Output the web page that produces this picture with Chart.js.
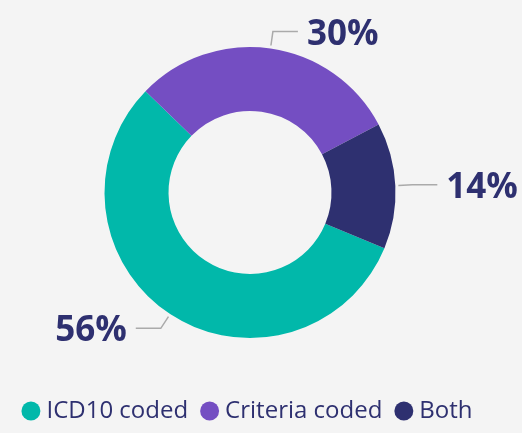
<!DOCTYPE html>
<html lang="en">
<head>
  <meta charset="UTF-8" />
  <title>Coding breakdown</title>
  <script src="https://cdn.jsdelivr.net/npm/chart.js"></script>
  <style>
    body { margin: 0; background: #f4f4f4; }
    #wrap { width: 522px; height: 433px; position: relative; }
  </style>
</head>
<body>
  <div id="wrap"><canvas id="donut"></canvas></div>
  <script>
    // chart data
    const categories = ['ICD10 coded', 'Criteria coded', 'Both'];
    const shares = [56, 30, 14];
    const sliceColors = ['#01B8AA', '#744EC2', '#2E3070'];

    const navy = '#2E3070';
    const fontFamily = "'Segoe UI', 'Open Sans', sans-serif";

    // outside labels with little elbow leader lines
    const outsideLabels = {
      id: 'outsideLabels',
      afterDatasetsDraw(chart) {
        const ctx = chart.ctx;
        const meta = chart.getDatasetMeta(0);
        ctx.save();
        meta.data.forEach((arc, i) => {
          const p = arc.getProps(['x', 'y', 'startAngle', 'endAngle', 'outerRadius'], true);
          const mid = (p.startAngle + p.endAngle) / 2;
          const cos = Math.cos(mid), sin = Math.sin(mid);
          const r0 = p.outerRadius + 3, r1 = p.outerRadius + 17;
          const sx = p.x + cos * r0, sy = p.y + sin * r0;
          const ex = p.x + cos * r1, ey = p.y + sin * r1;
          const dir = cos >= 0 ? 1 : -1;
          const hx = ex + dir * 25;

          ctx.strokeStyle = '#aaaaaa';
          ctx.lineWidth = 1.5;
          ctx.beginPath();
          ctx.moveTo(sx, sy);
          ctx.lineTo(ex, ey);
          ctx.lineTo(hx, ey);
          ctx.stroke();

          ctx.fillStyle = navy;
          ctx.font = 'bold 35px ' + fontFamily;
          ctx.textBaseline = 'middle';
          ctx.textAlign = dir > 0 ? 'left' : 'right';
          ctx.fillText(shares[i] + '%', hx + dir * 9, ey + 3);
        });
        ctx.restore();
      }
    };

    new Chart(document.getElementById('donut'), {
      type: 'doughnut',
      data: {
        labels: categories,
        datasets: [{
          data: shares,
          backgroundColor: sliceColors,
          borderWidth: 0,
          hoverOffset: 0
        }]
      },
      options: {
        responsive: true,
        maintainAspectRatio: false,
        animation: false,
        rotation: 112.5,
        radius: 145.5,
        cutout: '56%',
        layout: { padding: { top: 4, right: 22, left: 0, bottom: 0 } },
        plugins: {
          tooltip: { enabled: false },
          legend: {
            position: 'bottom',
            labels: {
              usePointStyle: true,
              pointStyle: 'circle',
              boxWidth: 7,
              boxHeight: 13.4,
              padding: 18,
              color: navy,
              font: { family: fontFamily, size: 24 }
            }
          }
        }
      },
      plugins: [outsideLabels]
    });
  </script>
</body>
</html>
